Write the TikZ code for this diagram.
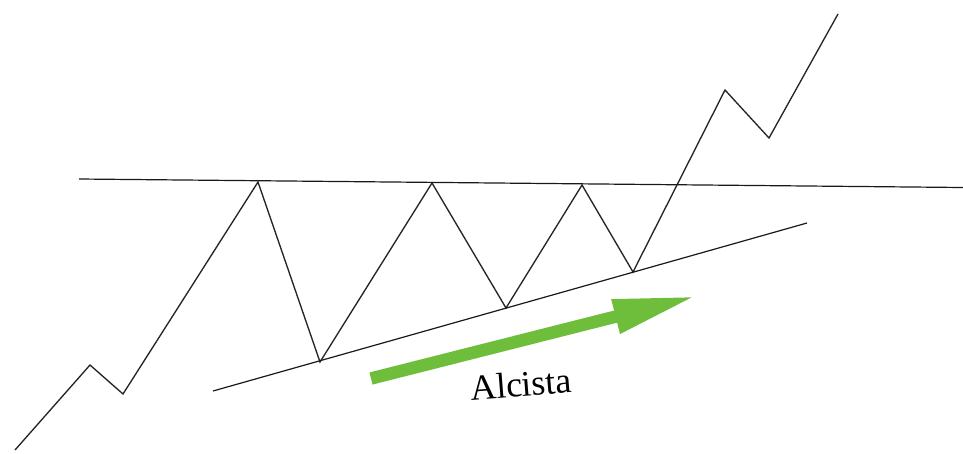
\documentclass[tikz,border=0pt]{standalone}
\usepackage{fontspec}
\setmainfont{Liberation Serif}
\usepackage{tikz}
\usetikzlibrary{arrows.meta}
\usepackage{xcolor}
\definecolor{trendgreen}{RGB}{110,190,60}

\begin{document}
\begin{tikzpicture}[x=1pt, y=-1pt,
    price/.style={draw=black!85, line width=1.35pt, line join=miter},
    bound/.style={draw=black!90, line width=1.2pt}]
  \useasboundingbox (0,0) rectangle (963,453);
  % price path
  \coordinate (p0) at (15,450);
  \coordinate (p1) at (90,365);
  \coordinate (p2) at (123,394);
  \coordinate (p3) at (258,182);
  \coordinate (p4) at (320,362);
  \coordinate (p5) at (432,183);
  \coordinate (p6) at (506,308);
  \coordinate (p7) at (582,185);
  \coordinate (p8) at (633,272);
  \coordinate (p9) at (725,90);
  \coordinate (p10) at (769,138);
  \coordinate (p11) at (838,14);
  \draw[price] (p0) -- (p1) -- (p2) -- (p3) -- (p4) -- (p5) -- (p6)
    -- (p7) -- (p8) -- (p9) -- (p10) -- (p11);
  % resistance and support
  \coordinate (resA) at (79,179);
  \coordinate (resB) at (963,187.5);
  \coordinate (supA) at (213,391);
  \coordinate (supB) at (807,223);
  \draw[bound] (resA) -- (resB);
  \draw[bound] (supA) -- (supB);
  % trend arrow
  \coordinate (trendA) at (371,378.5);
  \coordinate (trendB) at (697,296);
  \draw[trendgreen, line width=12.5pt,
        -{Triangle[length=84pt, width=32pt]}] (trendA) -- (trendB);
  \node[font=\fontsize{36}{40}\selectfont, rotate=4.5] (trend) at (521,384) {Alcista};
\end{tikzpicture}
\end{document}
